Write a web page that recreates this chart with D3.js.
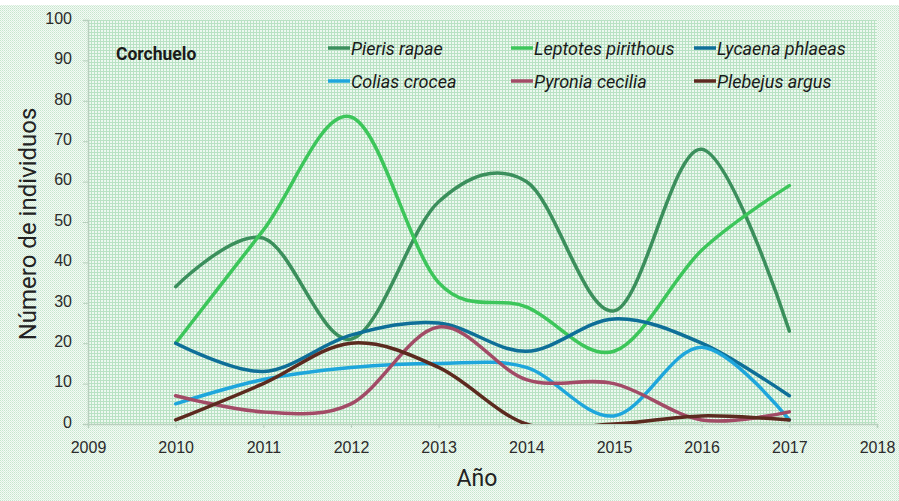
<!DOCTYPE html>
<head>
  <meta charset="utf-8">
  <script src="https://d3js.org/d3.v7.min.js"></script>
  <style>
    body { margin: 0; background: #fff; }
    svg { display: block; font-family: Roboto, "Liberation Sans", sans-serif; }
  </style>
</head>
<body>
  <script>
    // data
    var years = [2010, 2011, 2012, 2013, 2014, 2015, 2016, 2017];
    var seriesNames = ['Pieris rapae', 'Leptotes pirithous', 'Lycaena phlaeas',
      'Colias crocea', 'Pyronia cecilia', 'Plebejus argus'];
    var pierisRapae = [34, 46, 21, 55, 60, 28, 68, 23];
    var leptotesPirithous = [20, 48, 76, 35, 29, 18, 43, 59];
    var lycaenaPhlaeas = [20, 13, 22, 25, 18, 26, 20, 7];
    var coliasCrocea = [5, 11, 14, 15, 14, 2, 19, 1];
    var pyroniaCecilia = [7, 3, 5, 24, 11, 10, 1, 3];
    var plebejusArgus = [1, 10, 20, 14, 0, 0, 2, 1];
    var xTicks = [2009, 2010, 2011, 2012, 2013, 2014, 2015, 2016, 2017, 2018];
    var yTicks = [0, 10, 20, 30, 40, 50, 60, 70, 80, 90, 100];

    var seriesValues = [pierisRapae, leptotesPirithous, lycaenaPhlaeas,
      coliasCrocea, pyroniaCecilia, plebejusArgus];
    var seriesColors = ['#3b8f5c', '#3cc65a', '#0e6f98', '#1ea6dc', '#a24b66', '#5c2a1f'];

    var outerWidth = 899, outerHeight = 501;
    var margin = { top: 20, left: 88, right: 22, bottom: 77 };
    var width = outerWidth - margin.left - margin.right,
      height = outerHeight - margin.top - margin.bottom;

    var xScale = d3.scaleLinear().domain([2009, 2018]).range([0, width]);
    var yScale = d3.scaleLinear().domain([0, 100]).range([height, 0]);

    var svg = d3.select('body').append('svg')
      .attr('width', outerWidth)
      .attr('height', outerHeight);

    // dithered backgrounds
    var defs = svg.append('defs');
    var dots = defs.append('pattern').attr('id', 'dots')
      .attr('width', 2).attr('height', 2).attr('patternUnits', 'userSpaceOnUse');
    dots.append('rect').attr('width', 2).attr('height', 2).attr('fill', '#f4faf5');
    dots.append('rect').attr('width', 1).attr('height', 1).attr('fill', '#c6e6cd');
    dots.append('rect').attr('x', 1).attr('y', 1).attr('width', 1).attr('height', 1).attr('fill', '#d8eedd');

    var grid = defs.append('pattern').attr('id', 'grid')
      .attr('width', 3).attr('height', 3).attr('patternUnits', 'userSpaceOnUse');
    grid.append('rect').attr('width', 3).attr('height', 3).attr('fill', '#eef8f0');
    grid.append('rect').attr('width', 3).attr('height', 1).attr('fill', '#b9e2c3');
    grid.append('rect').attr('width', 1).attr('height', 3).attr('fill', '#b9e2c3');

    svg.append('rect').attr('y', 5).attr('width', outerWidth).attr('height', outerHeight - 5)
      .attr('fill', 'url(#dots)');

    var g = svg.append('g')
      .attr('transform', 'translate(' + margin.left + ' ' + margin.top + ')');

    g.append('rect').attr('width', width).attr('height', height).attr('fill', 'url(#grid)');

    defs.append('clipPath').attr('id', 'plotClip')
      .append('rect').attr('x', 0).attr('y', -5).attr('width', width).attr('height', height + 5);

    // axes
    var yAxis = d3.axisLeft(yScale).tickValues(yTicks).tickSize(5).tickPadding(11);
    var xAxis = d3.axisBottom(xScale).tickValues(xTicks).tickFormat(d3.format('d'))
      .tickSize(4).tickPadding(14);

    var yG = g.append('g').call(yAxis);
    var xG = g.append('g').attr('transform', 'translate(0,' + height + ')').call(xAxis);
    [yG, xG].forEach(function(ax) {
      ax.select('.domain').attr('stroke', '#b7cfbd').attr('stroke-width', 1.5);
      ax.selectAll('.tick line').attr('stroke', '#b7cfbd');
      ax.selectAll('.tick text').attr('fill', '#2b2b2b').style('font-size', '16px');
    });
    yG.selectAll('.tick text').attr('dy', '0.2em');

    // lines
    var line = d3.line()
      .x(function(d, i) { return xScale(years[i]); })
      .y(function(d) { return yScale(d); })
      .curve(d3.curveCardinal.tension(0));

    g.append('g').attr('clip-path', 'url(#plotClip)')
      .selectAll('path')
      .data(seriesValues)
      .enter().append('path')
      .attr('d', line)
      .attr('fill', 'none')
      .attr('stroke', function(d, i) { return seriesColors[i]; })
      .attr('stroke-width', 3.5)
      .attr('stroke-linecap', 'round')
      .attr('stroke-linejoin', 'round');

    // site label
    svg.append('text').attr('x', 116).attr('y', 60)
      .style('font-size', '17.5px').style('font-weight', 'bold').attr('fill', '#1a1a1a')
      .text('Corchuelo');

    // legend, three per row
    var legendX = [328, 511, 694], legendY = [48, 81];
    var legend = svg.append('g').selectAll('g')
      .data(seriesNames)
      .enter().append('g')
      .attr('transform', function(d, i) {
        return 'translate(' + legendX[i % 3] + ' ' + legendY[Math.floor(i / 3)] + ')';
      });
    legend.append('line').attr('x1', 0).attr('x2', 22)
      .attr('stroke', function(d, i) { return seriesColors[i]; })
      .attr('stroke-width', 3.5);
    legend.append('text').attr('x', 23).attr('y', 6.5)
      .style('font-size', '18px').style('font-style', 'italic').attr('fill', '#1a1a1a')
      .text(function(d) { return d; });

    // axis titles
    svg.append('text')
      .attr('transform', 'translate(36 ' + (margin.top + height / 2 + 2) + ') rotate(-90)')
      .attr('text-anchor', 'middle')
      .style('font-size', '24px').attr('fill', '#222')
      .text('Número de individuos');
    svg.append('text').attr('x', 477).attr('y', 486)
      .attr('text-anchor', 'middle')
      .style('font-size', '23px').attr('fill', '#222')
      .text('Año');
  </script>
</body>
